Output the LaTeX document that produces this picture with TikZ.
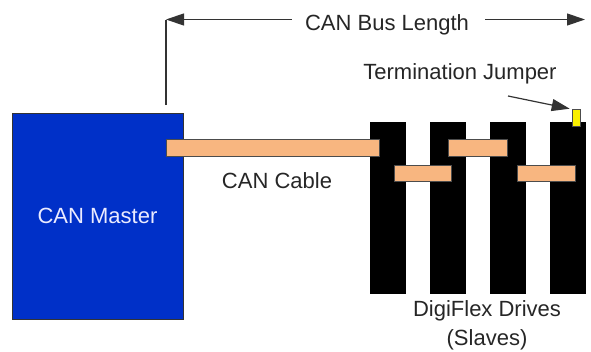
\documentclass[tikz,border=0pt]{standalone}
\usepackage{fontspec}
\setmainfont{Liberation Sans}
\usetikzlibrary{arrows.meta,positioning}
\definecolor{masterblue}{RGB}{0,48,200}
\definecolor{cableorange}{RGB}{248,182,128}
\definecolor{jumperyellow}{RGB}{250,240,0}

\begin{document}
\begin{tikzpicture}[
  x=1pt,y=-1pt,
  master/.style={draw=black!80,fill=masterblue,minimum width=171pt,minimum height=206pt,
                 font=\fontsize{22}{26}\selectfont,text=white!92!blue,inner sep=0pt},
  drive/.style={fill=black,minimum width=36pt,minimum height=172pt,inner sep=0pt},
  wire/.style={draw=black!70,fill=cableorange,line width=0.6pt,minimum height=17pt,inner sep=0pt},
  jumper/.style={draw=black!70,fill=jumperyellow,line width=0.6pt,
                 minimum width=8pt,minimum height=17pt,inner sep=0pt},
  lbl/.style={font=\fontsize{22}{29}\selectfont,text=black!85,align=center,inner sep=0pt},
  arr/.style={-{Triangle[length=18pt,width=12pt]},draw=black!80,line width=1.2pt}
]
  \useasboundingbox (0,0) rectangle (591,351);

  % Master
  \node[master] (master) at (97.5,216) {CAN Master};

  % Drives
  \node[drive] (drive1) at (388,208) {};
  \node[drive] (drive2) at (448,208) {};
  \node[drive] (drive3) at (508,208) {};
  \node[drive] (drive4) at (568,208) {};

  % Cables
  \node[wire,minimum width=213pt] (cable) at (272.5,148) {};
  \node[wire,minimum width=57pt,minimum height=16pt] (link1) at (422.5,173) {};
  \node[wire,minimum width=59pt] (link2) at (477.5,148) {};
  \node[wire,minimum width=58pt,minimum height=16pt] (link3) at (546,173) {};
  \node[jumper] (jumper) at (576,117.5) {};

  % Labels
  \node[lbl] (buslen) at (387,24.5) {CAN Bus Length};
  \node[lbl] (cablelbl) at (277,181) {CAN Cable};
  \node[lbl] (termlbl) at (460,74) {Termination Jumper};
  \node[lbl] (drivelbl) at (487,325) {DigiFlex Drives\\(Slaves)};

  % Dimension line
  \coordinate (lenleft)  at (166,19.5);
  \coordinate (lenright) at (585,19.5);
  \coordinate (lentick)  at (166,105);
  \coordinate (termtail) at (508,96);
  \draw[draw=black!80,line width=1.2pt] (lentick) -- (lenleft);
  \draw[arr] ([xshift=-13pt]buslen.west |- lenleft) -- (lenleft);
  \draw[arr] ([xshift=16pt]buslen.east |- lenright) -- (lenright);
  \draw[arr] (termtail) -- ([xshift=-2pt]jumper.north west);
\end{tikzpicture}
\end{document}
